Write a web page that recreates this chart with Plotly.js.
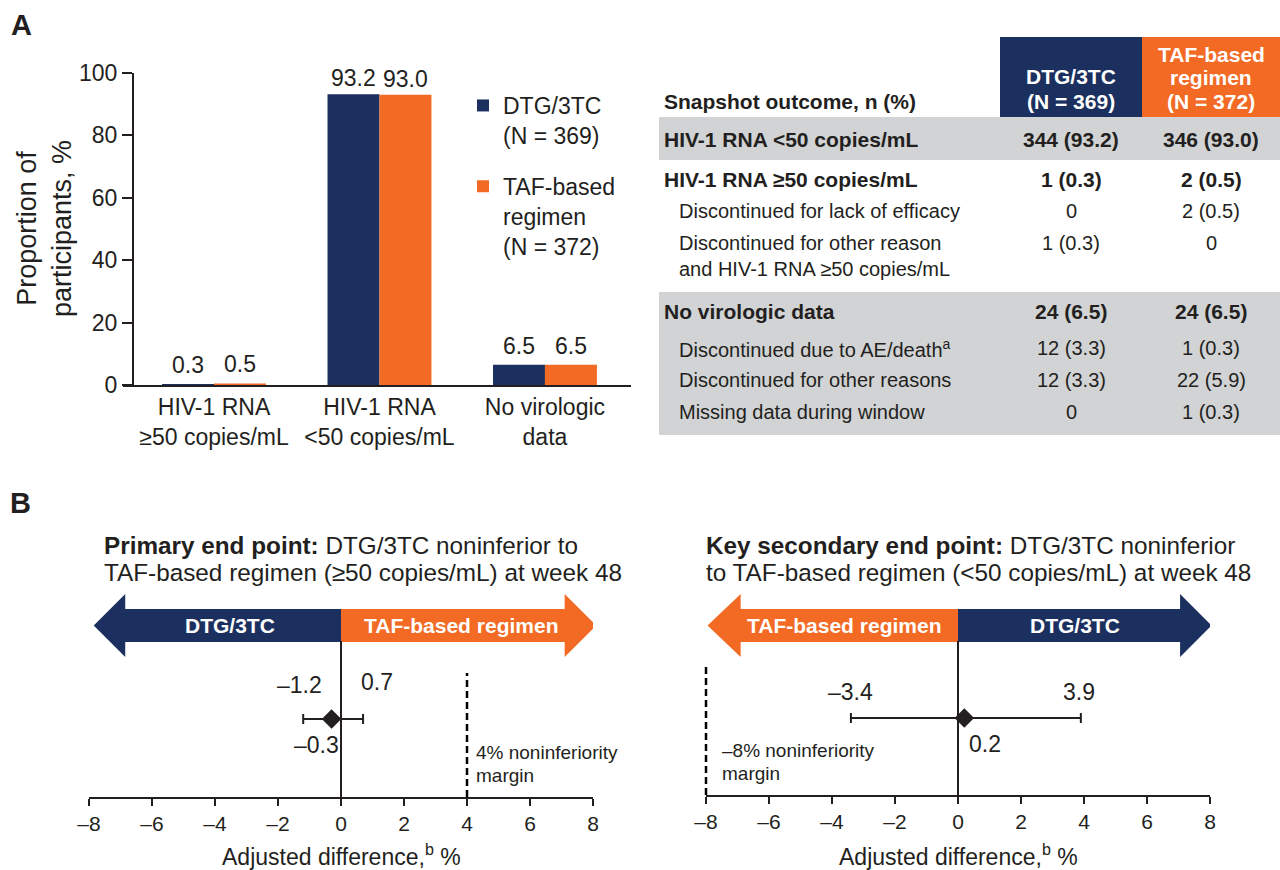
<!DOCTYPE html>
<html>
<head>
<meta charset="utf-8">
<script src="https://cdn.plot.ly/plotly-3.0.1.min.js"></script>
<style>html,body{margin:0;padding:0;background:#fff}#chart{width:1280px;height:870px}</style>
</head>
<body>
<div id="chart"></div>
<script>
// ---------------- DATA ----------------
const categories = ['HIV-1 RNA<br>≥50 copies/mL', 'HIV-1 RNA<br>&lt;50 copies/mL', 'No virologic<br>data'];
const seriesNames = ['DTG/3TC<br>(N = 369)', 'TAF-based<br>regimen<br>(N = 372)'];
const dtgValues = [0.3, 93.2, 6.5];
const tafValues = [0.5, 93.0, 6.5];
const yTicks = [0, 20, 40, 60, 80, 100];

const tableTitle = 'Snapshot outcome, n (%)';
const tableHeaderDTG = ['DTG/3TC', '(N = 369)'];
const tableHeaderTAF = ['TAF-based', 'regimen', '(N = 372)'];
const tableRows = [
  'HIV-1 RNA &lt;50 copies/mL',
  'HIV-1 RNA ≥50 copies/mL',
  'Discontinued for lack of efficacy',
  'Discontinued for other reason<br>and HIV-1 RNA ≥50 copies/mL',
  'No virologic data',
  'Discontinued due to AE/death<sup>a</sup>',
  'Discontinued for other reasons',
  'Missing data during window'
];
const tableDTG = ['344 (93.2)', '1 (0.3)', '0', '1 (0.3)', '24 (6.5)', '12 (3.3)', '12 (3.3)', '0'];
const tableTAF = ['346 (93.0)', '2 (0.5)', '2 (0.5)', '0', '24 (6.5)', '1 (0.3)', '22 (5.9)', '1 (0.3)'];
const tableRowIsSummary = [true, true, false, false, true, false, false, false];

const primaryTitle = ['<b>Primary end point:</b> DTG/3TC noninferior to', 'TAF-based regimen (≥50 copies/mL) at week 48'];
const primaryArrowLabels = ['DTG/3TC', 'TAF-based regimen'];
const primaryEstimate = [-0.3];
const primaryLower = [-1.2];
const primaryUpper = [0.7];
const primaryMargin = 4;
const primaryMarginLabel = ['4% noninferiority', 'margin'];

const secondaryTitle = ['<b>Key secondary end point:</b> DTG/3TC noninferior', 'to TAF-based regimen (&lt;50 copies/mL) at week 48'];
const secondaryArrowLabels = ['TAF-based regimen', 'DTG/3TC'];
const secondaryEstimate = [0.2];
const secondaryLower = [-3.4];
const secondaryUpper = [3.9];
const secondaryMargin = -8;
const secondaryMarginLabel = ['–8% noninferiority', 'margin'];

const forestTicks = [-8, -6, -4, -2, 0, 2, 4, 6, 8];
const forestTickLabels = ['–8', '–6', '–4', '–2', '0', '2', '4', '6', '8'];
const forestAxisTitle = 'Adjusted difference,<sup>b</sup> %';

// ---------------- STYLE / LAYOUT ----------------
const W = 1280, H = 870;
const PX = x => x / W;
const PY = y => 1 - y / H;
const NAVY = '#1c3060', ORANGE = '#f26a24', GRAY = '#d1d3d4', INK = '#231f20';
const FONT = 'Liberation Sans, Arial, Helvetica, sans-serif';
const fmt = v => (v < 0 ? '–' : '') + Math.abs(v).toFixed(1);
const FOREST_RANGE = [forestTicks[0], forestTicks[forestTicks.length - 1]];
const forestDomains = {'2': [PX(89), PX(593)], '3': [PX(706), PX(1210)]};

const annotations = [];
const shapes = [];
function ann(text, x, y, size, extra) {
  annotations.push(Object.assign({
    text: text, x: PX(x), y: PY(y), xref: 'paper', yref: 'paper',
    showarrow: false, xanchor: 'center', yanchor: 'middle',
    font: {family: FONT, size: size, color: INK}
  }, extra || {}));
}
function rect(x0, y0, x1, y1, color) {
  shapes.push({type: 'rect', xref: 'paper', yref: 'paper', x0: PX(x0), x1: PX(x1), y0: PY(y1), y1: PY(y0),
    fillcolor: color, line: {width: 0}, layer: 'below'});
}

// Panel letters
ann('<b>A</b>', 21, 25, 29);
ann('<b>B</b>', 20, 503, 29);

// ---- Panel A bars ----
const catIdx = categories.map((_, i) => i);
const barGap = 0.372;
const halfBar = (1 - barGap) / 4;
const traces = [
  {type: 'bar', x: catIdx, y: dtgValues, name: seriesNames[0], marker: {color: NAVY}, legendgroup: 'a',
   xaxis: 'x', yaxis: 'y', hoverinfo: 'skip'},
  {type: 'bar', x: catIdx, y: tafValues, name: seriesNames[1], marker: {color: ORANGE}, legendgroup: 'b',
   xaxis: 'x', yaxis: 'y', hoverinfo: 'skip'}
];
const valShift = v => (v > 50 ? 1 : 4);
dtgValues.forEach((v, i) => annotations.push({text: v.toFixed(1), x: i - halfBar, y: v, xref: 'x', yref: 'y',
  showarrow: false, yanchor: 'bottom', yshift: valShift(v), font: {family: FONT, size: 23, color: INK}}));
tafValues.forEach((v, i) => annotations.push({text: v.toFixed(1), x: i + halfBar, y: v, xref: 'x', yref: 'y',
  showarrow: false, yanchor: 'bottom', yshift: valShift(v), font: {family: FONT, size: 23, color: INK}}));
ann('Proportion of<br>participants, %', 44, 229, 27, {textangle: -90});

// ---- Panel A table ----
rect(1000, 37, 1142, 117, NAVY);
rect(1142, 37, 1280, 117, ORANGE);
rect(659, 117, 1280, 160, GRAY);
rect(659, 292, 1280, 435, GRAY);
ann('<b>' + tableTitle + '</b>', 662, 101, 21, {xanchor: 'left'});
const hdrDTGy = [76, 101], hdrTAFy = [55, 78, 101];
tableHeaderDTG.forEach((t, i) => ann('<b>' + t + '</b>', 1071, hdrDTGy[i], 21, {font: {family: FONT, size: 21, color: '#ffffff'}}));
tableHeaderTAF.forEach((t, i) => ann('<b>' + t + '</b>', 1211, hdrTAFy[i], 21, {font: {family: FONT, size: 21, color: '#ffffff'}}));
const rowY = [139, 180, 211, 243, 311, 348, 380, 412];
tableRows.forEach((t, i) => {
  const b = tableRowIsSummary[i];
  const multi = t.indexOf('<br>') >= 0;
  const sz = b ? 21 : 20;
  ann(b ? '<b>' + t + '</b>' : t, b ? 662 : 677, multi ? rowY[i] - 13 : rowY[i], sz,
      {xanchor: 'left', align: 'left', yanchor: multi ? 'top' : 'middle'});
  ann(b ? '<b>' + tableDTG[i] + '</b>' : tableDTG[i], 1071, rowY[i], sz);
  ann(b ? '<b>' + tableTAF[i] + '</b>' : tableTAF[i], 1211, rowY[i], sz);
});

// ---- Panel B forest plots ----
function forest(ax, estimate, lower, upper, margin, title, titleX, arrowLabels, leftColor, rightColor,
                 marginTop, marginLabel, marginLabelX, labelShifts, arrowGeom, labelXs) {
  const xr = 'x' + ax, yr = 'y' + ax;
  traces.push({type: 'scatter', mode: 'markers', x: estimate, y: estimate.map(() => 0.5), xaxis: xr, yaxis: yr,
    showlegend: false, hoverinfo: 'skip', cliponaxis: false,
    marker: {symbol: 'diamond', size: 15, color: INK},
    error_x: {type: 'data', symmetric: false,
      array: upper.map((u, i) => u - estimate[i]), arrayminus: lower.map((l, i) => estimate[i] - l),
      color: INK, thickness: 2, width: 5}});
  title.forEach((t, i) => ann(t, titleX, [545, 572][i], 24.3, {xanchor: 'left'}));
  // arrows
  const [tipL, baseL, baseR, tipR] = arrowGeom;
  const yT = PY(594), yS = PY(609), yM = PY(625.5), yB = PY(642), yBB = PY(657);
  shapes.push({type: 'path', xref: xr, yref: 'paper', fillcolor: leftColor, line: {width: 0}, layer: 'below',
    path: `M0,${yS} L${baseL},${yS} L${baseL},${yT} L${tipL},${yM} L${baseL},${yBB} L${baseL},${yB} L0,${yB} Z`});
  shapes.push({type: 'path', xref: xr, yref: 'paper', fillcolor: rightColor, line: {width: 0}, layer: 'below',
    path: `M0,${yS} L${baseR},${yS} L${baseR},${yT} L${tipR},${yM} L${baseR},${yBB} L${baseR},${yB} L0,${yB} Z`});
  labelXs.forEach((lx, i) => annotations.push({text: '<b>' + arrowLabels[i] + '</b>', x: lx, y: yM, xref: xr, yref: 'paper',
    xanchor: 'center', yanchor: 'middle', showarrow: false, font: {family: FONT, size: 21, color: '#ffffff'}}));
  // margin line (x converted through the axis' own domain/range so it is not clipped at the axis edge)
  const dom = forestDomains[ax];
  const mx = dom[0] + (margin - FOREST_RANGE[0]) / (FOREST_RANGE[1] - FOREST_RANGE[0]) * (dom[1] - dom[0]);
  const yDom = ax === '2' ? [PY(797), PY(641)] : [PY(795), PY(641)];
  shapes.push({type: 'line', xref: 'paper', yref: 'paper', x0: mx, x1: mx, y0: yDom[0],
    y1: yDom[0] + marginTop * (yDom[1] - yDom[0]),
    line: {color: '#000000', width: 2.5, dash: '7px,4px'}});
  marginLabel.forEach((t, i) => annotations.push({text: t, x: margin, y: [0.288, 0.14][i], xref: xr, yref: yr,
    xshift: marginLabelX, showarrow: false, xanchor: 'left', yanchor: 'middle', font: {family: FONT, size: 19, color: INK}}));
  // value labels
  const mk = (v, dx, y) => annotations.push({text: fmt(v), x: v, y: y, xref: xr, yref: yr, xshift: dx,
    showarrow: false, xanchor: 'center', yanchor: 'middle', font: {family: FONT, size: 23, color: INK}});
  mk(lower[0], labelShifts[0], labelShifts[3]);
  mk(upper[0], labelShifts[1], labelShifts[4]);
  mk(estimate[0], labelShifts[2], 0.333);
}
forest('2', primaryEstimate, primaryLower, primaryUpper, primaryMargin, primaryTitle, 102, primaryArrowLabels,
  NAVY, ORANGE, 0.795, primaryMarginLabel, 7, [-4, 14, -15, 0.715, 0.74], [-7.85, -6.85, 7.1, 8.1], [-3.52, 3.8]);
forest('3', secondaryEstimate, secondaryLower, secondaryUpper, secondaryMargin, secondaryTitle, 704, secondaryArrowLabels,
  ORANGE, NAVY, 0.84, secondaryMarginLabel, 14, [0, -2, 21, 0.67, 0.67], [-7.95, -6.9, 7.05, 8.05], [-3.62, 3.7]);
ann(forestAxisTitle, 341, 855, 23);
ann(forestAxisTitle, 958, 855, 23);

const forestX = (d) => ({domain: d, range: FOREST_RANGE, showgrid: false, zeroline: true, zerolinecolor: INK, zerolinewidth: 2,
  showline: true, linecolor: INK, linewidth: 2, ticks: 'outside', ticklen: 7, tickwidth: 2, tickcolor: INK,
  tickvals: forestTicks, ticktext: forestTickLabels, tickfont: {family: FONT, size: 21, color: INK}, fixedrange: true});

const layout = {
  width: W, height: H, margin: {l: 0, r: 0, t: 0, b: 0},
  paper_bgcolor: '#ffffff', plot_bgcolor: 'rgba(0,0,0,0)',
  font: {family: FONT, color: INK},
  barmode: 'group', bargap: barGap, bargroupgap: 0,
  showlegend: true,
  legend: {x: PX(463), y: PY(84), xanchor: 'left', yanchor: 'top', valign: 'top', tracegroupgap: 18,
    font: {family: FONT, size: 23, color: INK}, bgcolor: 'rgba(0,0,0,0)', itemclick: false, itemdoubleclick: false},
  xaxis: {domain: [PX(123), PX(631)], range: [-0.55, 2.52], anchor: 'y', showgrid: false, zeroline: false,
    showline: true, linecolor: INK, linewidth: 2, ticks: '', tickvals: catIdx, ticktext: categories,
    tickfont: {family: FONT, size: 23, color: INK}, fixedrange: true},
  yaxis: {domain: [PY(385), PY(73)], range: [0, 100], anchor: 'free', position: PX(133), showgrid: false,
    zeroline: false, showline: true, linecolor: INK, linewidth: 2, ticks: 'outside', ticklen: 10, tickwidth: 2,
    tickcolor: INK, tickvals: yTicks, tickfont: {family: FONT, size: 23, color: INK}, fixedrange: true},
  xaxis2: Object.assign(forestX(forestDomains['2']), {anchor: 'y2'}),
  yaxis2: {domain: [PY(797), PY(641)], range: [0, 1], visible: false, fixedrange: true, anchor: 'x2'},
  xaxis3: Object.assign(forestX(forestDomains['3']), {anchor: 'y3'}),
  yaxis3: {domain: [PY(795), PY(641)], range: [0, 1], visible: false, fixedrange: true, anchor: 'x3'},
  shapes: shapes,
  annotations: annotations
};

Plotly.newPlot('chart', traces, layout, {displayModeBar: false, staticPlot: true});
</script>
</body>
</html>
